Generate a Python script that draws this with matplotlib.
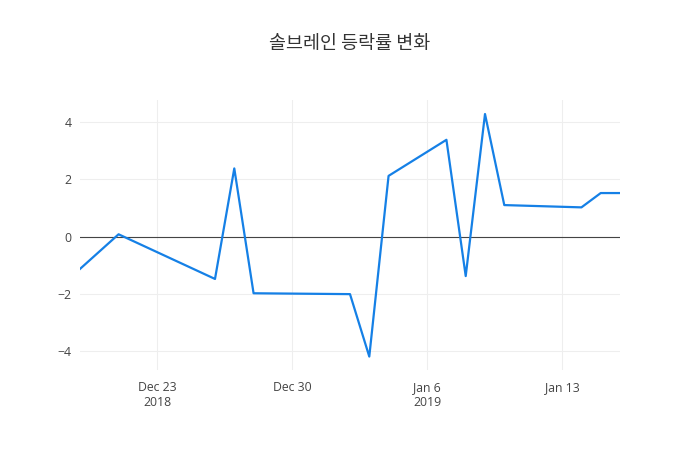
import matplotlib
matplotlib.use("Agg")
import matplotlib.pyplot as plt
import matplotlib.dates as mdates
import pandas as pd

dates = ["2018-12-19", "2018-12-21", "2018-12-26", "2018-12-27", "2018-12-28",
         "2019-01-02", "2019-01-03", "2019-01-04", "2019-01-07", "2019-01-08",
         "2019-01-09", "2019-01-10", "2019-01-14", "2019-01-15", "2019-01-16"]
values = [-1.13, 0.08, -1.48, 2.38, -1.98,
          -2.01, -4.19, 2.12, 3.38, -1.38,
          4.28, 1.10, 1.02, 1.52, 1.52]
tick_dates = ["2018-12-23", "2018-12-30", "2019-01-06", "2019-01-13"]
tick_labels = ["Dec 23\n2018", "Dec 30", "Jan 6\n2019", "Jan 13"]
y_ticks = [-4, -2, 0, 2, 4]
title = "솔브레인 등락률 변화"

x = pd.to_datetime(dates)

plt.rcParams['font.family'] = ['Open Sans', 'Noto Sans CJK KR', 'DejaVu Sans']

fig = plt.figure(figsize=(7, 4.5), dpi=100)
ax = fig.add_axes([80/700, 80/450, 540/700, 270/450])

ax.plot(x, values, color='#1580e6', linewidth=1.6, zorder=3)
ax.axhline(0, color='#444444', linewidth=0.8, zorder=2)

ax.set_xlim(pd.Timestamp("2018-12-19"), pd.Timestamp("2019-01-16"))
ax.set_ylim(-4.66, 4.77)

ax.set_xticks(pd.to_datetime(tick_dates))
ax.set_xticklabels(tick_labels)
ax.set_yticks(y_ticks)
ax.set_yticklabels([str(v).replace('-', '\u2212') for v in y_ticks])

ax.grid(True, color='#eeeeee', linewidth=0.8, zorder=0)
for s in ax.spines.values():
    s.set_visible(False)
ax.tick_params(axis='both', length=0, labelsize=8.8, colors='#444444')
ax.tick_params(axis='x', pad=8)
ax.tick_params(axis='y', pad=6)

fig.text(0.5, 1 - 44/450, title, ha='center', va='center', fontsize=13.3,
         color='#333333', family=['Noto Sans CJK KR', 'DejaVu Sans'])

fig.savefig("out.png", dpi=100, facecolor='white')
